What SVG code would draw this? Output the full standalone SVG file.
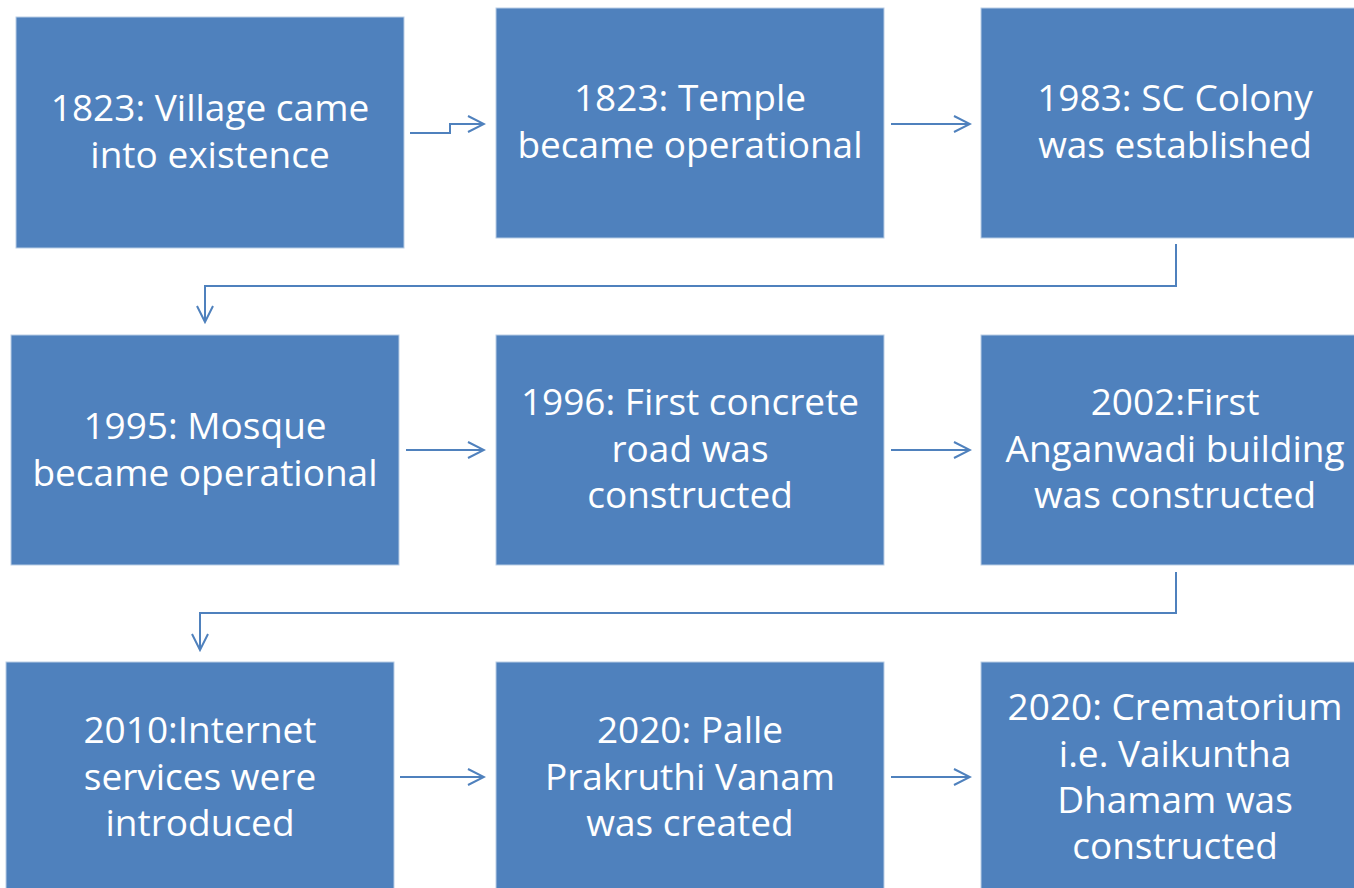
<svg xmlns="http://www.w3.org/2000/svg" width="1354" height="888" viewBox="0 0 1354 888">
<defs>
<style>
.box{fill:#4F81BD;stroke:#B9CDE5;stroke-width:1}
.t{font-family:"Open Sans","Liberation Sans",Arial,sans-serif;font-size:37px;fill:#FFFFFF;text-anchor:middle}
.c{fill:none;stroke:#4F81BD;stroke-width:2}
</style>
<marker id="ah" viewBox="0 0 20 20" refX="18" refY="10" markerWidth="20" markerHeight="20" markerUnits="userSpaceOnUse" orient="auto">
<path d="M2,2 L18,10 L2,18" fill="none" stroke="#4F81BD" stroke-width="2"/>
</marker>
</defs>
<rect width="1354" height="888" fill="#FFFFFF"/>
<g id="connectors">
<path class="c" d="M410,133 H450 V124 H484" marker-end="url(#ah)"/>
<path class="c" d="M891,124 H970" marker-end="url(#ah)"/>
<path class="c" d="M1176,244 V286 H205 V322" marker-end="url(#ah)"/>
<path class="c" d="M406,450 H484" marker-end="url(#ah)"/>
<path class="c" d="M891,450 H970" marker-end="url(#ah)"/>
<path class="c" d="M1176,572 V613 H200 V650" marker-end="url(#ah)"/>
<path class="c" d="M400,777 H484" marker-end="url(#ah)"/>
<path class="c" d="M891,777 H970" marker-end="url(#ah)"/>
</g>
<g id="n1"><rect class="box" x="16" y="17" width="388" height="231"/>
<text class="t" x="210" y="121">1823: Village came</text><text class="t" x="210" y="168">into existence</text></g>
<g id="n2"><rect class="box" x="496" y="8" width="388" height="230"/>
<text class="t" x="690" y="111">1823: Temple</text><text class="t" x="690" y="158">became operational</text></g>
<g id="n3"><rect class="box" x="981" y="8" width="388" height="230"/>
<text class="t" x="1175" y="111">1983: SC Colony</text><text class="t" x="1175" y="158">was established</text></g>
<g id="n4"><rect class="box" x="11" y="335" width="388" height="230"/>
<text class="t" x="205" y="439">1995: Mosque</text><text class="t" x="205" y="486">became operational</text></g>
<g id="n5"><rect class="box" x="496" y="335" width="388" height="230"/>
<text class="t" x="690" y="415">1996: First concrete</text><text class="t" x="690" y="462">road was</text><text class="t" x="690" y="508">constructed</text></g>
<g id="n6"><rect class="box" x="981" y="335" width="388" height="230"/>
<text class="t" x="1175" y="415">2002:First</text><text class="t" x="1175" y="462">Anganwadi building</text><text class="t" x="1175" y="508">was constructed</text></g>
<g id="n7"><rect class="box" x="6" y="662" width="388" height="230"/>
<text class="t" x="200" y="743">2010:Internet</text><text class="t" x="200" y="790">services were</text><text class="t" x="200" y="836">introduced</text></g>
<g id="n8"><rect class="box" x="496" y="662" width="388" height="230"/>
<text class="t" x="690" y="743">2020: Palle</text><text class="t" x="690" y="790">Prakruthi Vanam</text><text class="t" x="690" y="836">was created</text></g>
<g id="n9"><rect class="box" x="981" y="662" width="388" height="230"/>
<text class="t" x="1175" y="720">2020: Crematorium</text><text class="t" x="1175" y="767">i.e. Vaikuntha</text><text class="t" x="1175" y="813">Dhamam was</text><text class="t" x="1175" y="859">constructed</text></g>
</svg>
